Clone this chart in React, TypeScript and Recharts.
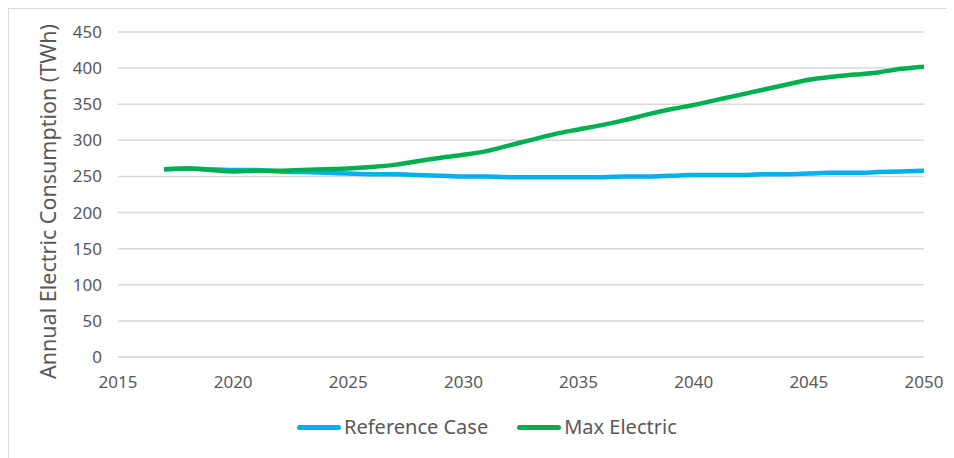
import { LineChart, Line, XAxis, YAxis, CartesianGrid, Label } from 'recharts';

const years = [
  2017, 2018, 2019, 2020, 2021, 2022, 2023, 2024, 2025, 2026, 2027, 2028,
  2029, 2030, 2031, 2032, 2033, 2034, 2035, 2036, 2037, 2038, 2039, 2040,
  2041, 2042, 2043, 2044, 2045, 2046, 2047, 2048, 2049, 2050,
];

const referenceCase = [
  260, 261, 260, 259, 259, 257, 256, 255, 254, 253, 253, 252,
  251, 250, 250, 249, 249, 249, 249, 249, 250, 250, 251, 252,
  252, 252, 253, 253, 254, 255, 255, 256, 257, 258,
];

const maxElectric = [
  260, 261, 259, 257, 258, 258, 259, 260, 261, 263, 266, 271,
  276, 280, 285, 293, 301, 309, 315, 321, 328, 336, 343, 349,
  356, 363, 370, 377, 384, 388, 391, 394, 399, 402,
];

const xTicks = [2015, 2020, 2025, 2030, 2035, 2040, 2045, 2050];
const yTicks = [0, 50, 100, 150, 200, 250, 300, 350, 400, 450];

const data = years.map((year, i) => ({
  year,
  reference: referenceCase[i],
  maxElectric: maxElectric[i],
}));

const FONT = '"Noto Sans", sans-serif';
const TEXT = '#595959';

const legendItems = [
  { name: 'Reference Case', color: '#00B0F0' },
  { name: 'Max Electric', color: '#00B050' },
];

function ChartLegend() {
  return (
    <div style={{ position: 'absolute', left: 288, top: 404, display: 'flex', fontFamily: FONT, fontSize: 20, color: TEXT, lineHeight: '28px' }}>
      {legendItems.map((it) => (
        <div key={it.name} style={{ display: 'flex', alignItems: 'center', marginRight: 29 }}>
          <span style={{ display: 'inline-block', width: 44, height: 5, borderRadius: 3, background: it.color, marginRight: 3 }} />
          <span>{it.name}</span>
        </div>
      ))}
    </div>
  );
}

export default function App() {
  return (
    <div style={{ position: 'relative', left: -1, top: -1, width: 960, height: 460, borderLeft: '2px solid #d9d9d9', borderTop: '2px solid #d9d9d9', boxSizing: 'border-box' }}>
      <LineChart
        width={946}
        height={451}
        data={data}
        margin={{ top: 24, right: 30, left: 0, bottom: 72 }}
        style={{ position: 'absolute', left: -1, top: -1 }}
      >
        <CartesianGrid vertical={false} stroke="#d9d9d9" strokeWidth={1.5} />
        <XAxis
          dataKey="year"
          type="number"
          domain={[2015, 2050]}
          ticks={xTicks}
          tickLine={false}
          axisLine={{ stroke: '#d9d9d9', strokeWidth: 1.5 }}
          tickSize={0}
          tickMargin={19}
          tick={{ fill: TEXT, fontSize: 17, fontFamily: FONT }}
        />
        <YAxis
          width={110}
          domain={[0, 450]}
          ticks={yTicks}
          axisLine={false}
          tickLine={false}
          tickSize={0}
          tickMargin={16}
          tick={{ fill: TEXT, fontSize: 17, fontFamily: FONT }}
        >
          <Label
            value="Annual Electric Consumption (TWh)"
            angle={-90}
            position="insideLeft"
            offset={40}
            dy={7}
            style={{ fill: TEXT, fontSize: 21.5, fontFamily: FONT, textAnchor: 'middle' }}
          />
        </YAxis>
        <Line
          dataKey="reference"
          name="Reference Case"
          type="monotone"
          stroke="#00B0F0"
          strokeWidth={4.5}
          dot={false}
          isAnimationActive={false}
        />
        <Line
          dataKey="maxElectric"
          name="Max Electric"
          type="monotone"
          stroke="#00B050"
          strokeWidth={4.5}
          dot={false}
          isAnimationActive={false}
        />
      </LineChart>
      <ChartLegend />
    </div>
  );
}
